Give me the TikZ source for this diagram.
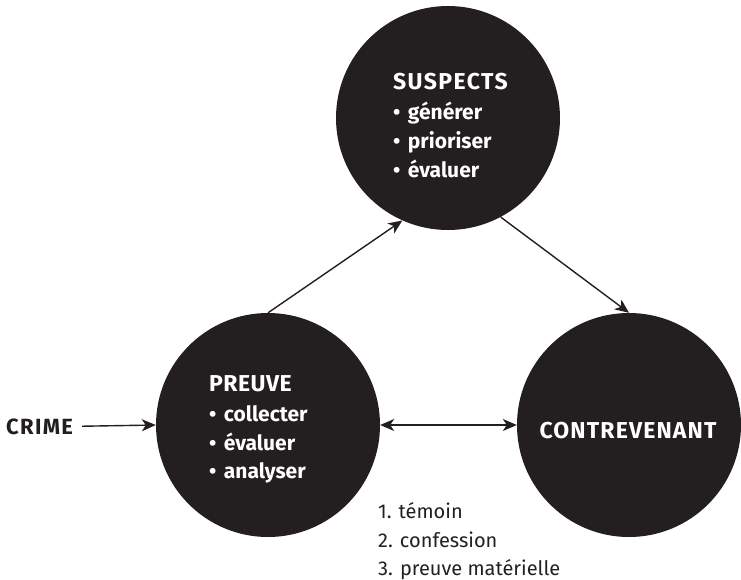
\documentclass[tikz,border=0pt]{standalone}
\usepackage{fontspec}
\setmainfont{Fira Sans}
\usetikzlibrary{arrows.meta}
\definecolor{ink}{HTML}{231F20}
\newcommand{\bul}{•\hspace{2.5pt} }
\tikzset{
  blob/.style={circle, fill=ink, minimum size=224pt, inner sep=0pt, draw=none},
  ttl/.style={anchor=base west, inner sep=0pt, text=white, font=\fontsize{23}{27}\selectfont\bfseries},
  itm/.style={anchor=base west, inner sep=0pt, text=white, font=\fontsize{21}{25}\selectfont\bfseries},
  lst/.style={anchor=base west, inner sep=0pt, text=ink, font=\fontsize{20}{24}\selectfont},
  tip/.style={-{Stealth[length=14pt,width=12pt,inset=4pt]}},
  conn/.style={line width=1.4pt, draw=ink, tip},
  conn2/.style={line width=1.4pt, draw=ink, {Stealth[length=14pt,width=12pt,inset=4pt]}-{Stealth[length=14pt,width=12pt,inset=4pt]}}
}
\begin{document}
\begin{tikzpicture}[x=1pt,y=-1pt]
\useasboundingbox (0,0) rectangle (741,579);
% circles
\node[blob] (sus) at (448,118) {};
\node[blob] (pre) at (268,425) {};
\node[blob] (con) at (629,425) {};
% top text
\node[ttl, font=\fontsize{23}{27}\selectfont\bfseries\addfontfeatures{LetterSpace=6}] (susT) at (393,89) {SUSPECTS};
\node[itm] (sus1) at (393,119) {\bul générer};
\node[itm] (sus2) at (393,148) {\bul prioriser};
\node[itm] (sus3) at (393,177) {\bul évaluer};
% left text
\node[ttl, font=\fontsize{23}{27}\selectfont\bfseries\addfontfeatures{LetterSpace=2}] (preT) at (209,391) {PREUVE};
\node[itm] (pre1) at (209,421) {\bul collecter};
\node[itm] (pre2) at (209,450) {\bul évaluer};
\node[itm] (pre3) at (209,478) {\bul analyser};
% right text
\node[anchor=base, inner sep=0pt, text=white, font=\fontsize{23}{27}\selectfont\bfseries\addfontfeatures{LetterSpace=5}] (conT) at (628,438) {CONTREVENANT};
% crime
\node[anchor=base west, inner sep=0pt, text=ink, font=\fontsize{22}{26}\selectfont\bfseries\addfontfeatures{LetterSpace=6}] (crime) at (6,434) {CRIME};
% list
\node[lst] (l1) at (378,518) {1. témoin};
\node[lst] (l2) at (378,547) {2. confession};
\node[lst] (l3) at (378,575) {3. preuve matérielle};
% connectors
\draw[conn, shorten <=9pt] (crime.east) -- (pre.west);
\draw[conn2] (pre.east) -- (con.west);
\draw[conn] (pre.90) -- (sus.246);
\draw[conn] (sus.298) -- (con.90);
\end{tikzpicture}
\end{document}
